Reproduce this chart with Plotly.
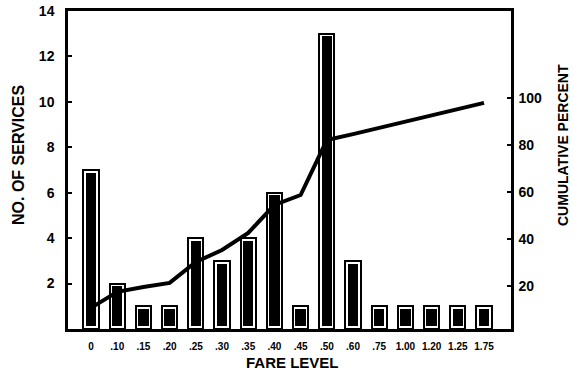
import plotly.graph_objects as go

fare_levels = ["0", ".10", ".15", ".20", ".25", ".30", ".35", ".40", ".45", ".50",
               ".60", ".75", "1.00", "1.20", "1.25", "1.75"]
services = [7, 2, 1, 1, 4, 3, 4, 6, 1, 13, 3, 1, 1, 1, 1, 1]
cumulative_pct = [10.6, 17.4, 19.5, 21.2, 30.1, 35.2, 42.5, 54.4, 58.6, 82.0,
                  84.5, 87.1, 89.8, 92.5, 95.1, 97.8]
left_ticks = [2, 4, 6, 8, 10, 12, 14]
right_ticks = [20, 40, 60, 80, 100]

FONT = "Liberation Sans"
idx = list(range(len(fare_levels)))

fig = go.Figure()
# outer outlined bar (white gap + black outline)
fig.add_trace(go.Bar(
    x=idx, y=services, width=0.58,
    marker=dict(color="white", line=dict(color="black", width=2)),
    hoverinfo="skip", showlegend=False))
# inner solid fill, inset a little from the outline
inset = 0.12
fig.add_trace(go.Bar(
    x=idx, y=[v - 2 * inset for v in services], base=inset, width=0.40,
    marker=dict(color="black", line=dict(width=0)),
    showlegend=False))
fig.add_trace(go.Scatter(
    x=idx, y=cumulative_pct, yaxis="y2", mode="lines",
    line=dict(color="black", width=4), showlegend=False))

PW, PH, L, T = 443, 318, 68, 11

fig.update_layout(
    template="none",
    width=574, height=374,
    margin=dict(l=68, r=63, t=11, b=45, pad=0, autoexpand=False),
    paper_bgcolor="white", plot_bgcolor="white",
    barmode="overlay", bargap=0,
    font=dict(family=FONT, color="black", size=13, weight="bold"),
    xaxis=dict(
        range=[-0.88, 16.03], tickmode="array", tickvals=idx, ticktext=fare_levels,
        showline=True, linecolor="black", linewidth=2.5, mirror=True,
        showgrid=False, zeroline=False, ticks="", automargin=False,
        tickfont=dict(family=FONT, size=10, weight="bold"),
        ticklabelstandoff=6),
    yaxis=dict(
        range=[0, 14], tickmode="array", tickvals=left_ticks,
        showline=True, linecolor="black", linewidth=2.5,
        showgrid=False, zeroline=False, automargin=False,
        ticks="inside", ticklen=4, tickwidth=1.5, tickcolor="black",
        tickfont=dict(family=FONT, size=14, weight="bold"),
        ticklabelstandoff=8),
    yaxis2=dict(
        range=[1.6, 136.9], overlaying="y", side="right", tickmode="array",
        tickvals=right_ticks,
        showline=True, linecolor="black", linewidth=2.5,
        showgrid=False, zeroline=False, automargin=False,
        ticks="inside", ticklen=4, tickwidth=1.5, tickcolor="black",
        tickfont=dict(family=FONT, size=14, weight="bold"),
        ticklabelstandoff=2),
    annotations=[
        dict(text="NO. OF SERVICES", xref="paper", yref="paper",
             x=(18 - L) / PW, y=(T + PH - 155) / PH, textangle=-90,
             showarrow=False, xanchor="center", yanchor="middle",
             font=dict(family=FONT, size=16, weight="bold")),
        dict(text="CUMULATIVE PERCENT", xref="paper", yref="paper",
             x=(563 - L) / PW, y=(T + PH - 145) / PH, textangle=-90,
             showarrow=False, xanchor="center", yanchor="middle",
             font=dict(family=FONT, size=14, weight="bold")),
        dict(text="FARE LEVEL", xref="paper", yref="paper",
             x=(292 - L) / PW, y=-(362 - T - PH) / PH,
             showarrow=False, xanchor="center", yanchor="middle",
             font=dict(family=FONT, size=15, weight="bold")),
    ],
)

fig.write_html(
    "out.html",
    config={"displayModeBar": False},
    post_script="document.body.style.margin='0';document.body.style.overflow='hidden';",
)
